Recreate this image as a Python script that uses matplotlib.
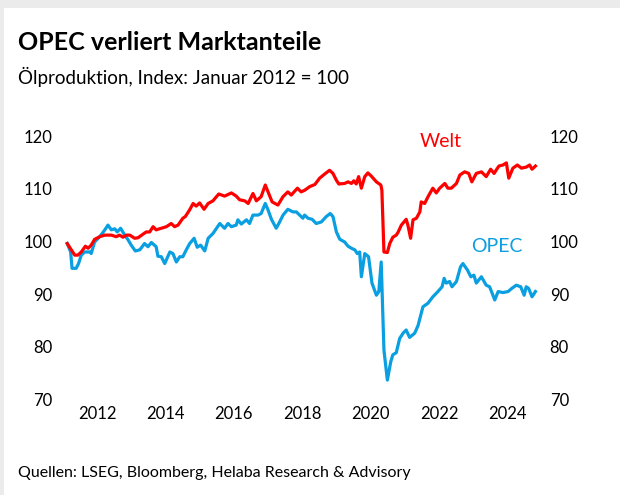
import matplotlib
matplotlib.use("Agg")
import matplotlib.pyplot as plt
from matplotlib.patches import Rectangle

# ---------------- data ----------------
welt_x = [2011.13, 2011.25, 2011.35, 2011.44, 2011.54, 2011.66, 2011.74, 2011.83, 2011.93,
          2012.08, 2012.23, 2012.42, 2012.56, 2012.66, 2012.76, 2012.86, 2012.96, 2013.10,
          2013.20, 2013.35, 2013.44, 2013.54, 2013.64, 2013.73, 2013.88, 2014.03, 2014.17,
          2014.27, 2014.37, 2014.51, 2014.58, 2014.71, 2014.81, 2014.90, 2015.00, 2015.13,
          2015.25, 2015.39, 2015.56, 2015.73, 2015.93, 2016.07, 2016.17, 2016.32, 2016.42,
          2016.56, 2016.66, 2016.80, 2016.92, 2017.02, 2017.12, 2017.29, 2017.44, 2017.58,
          2017.68, 2017.86, 2017.97, 2018.07, 2018.22, 2018.37, 2018.51, 2018.66, 2018.80,
          2018.90, 2019.00, 2019.07, 2019.24, 2019.34, 2019.44, 2019.51, 2019.58, 2019.65,
          2019.73, 2019.83, 2019.92, 2020.02, 2020.17, 2020.30, 2020.33, 2020.39, 2020.49,
          2020.56, 2020.65, 2020.75, 2020.80, 2020.90, 2021.04, 2021.09, 2021.17, 2021.24,
          2021.34, 2021.44, 2021.48, 2021.58, 2021.68, 2021.82, 2021.92, 2022.02, 2022.17,
          2022.26, 2022.36, 2022.51, 2022.61, 2022.75, 2022.87, 2022.96, 2023.09, 2023.24,
          2023.38, 2023.51, 2023.61, 2023.75, 2023.87, 2023.97, 2024.04, 2024.16, 2024.29,
          2024.41, 2024.55, 2024.65, 2024.72, 2024.82]
welt_y = [99.6, 98.4, 97.4, 97.4, 98.0, 99.1, 98.7, 99.3, 100.4,
          100.9, 101.2, 101.2, 100.9, 101.2, 100.8, 101.2, 101.2, 100.6,
          100.7, 101.4, 101.8, 101.8, 102.8, 102.2, 102.5, 102.8, 103.4,
          102.8, 103.1, 104.4, 104.7, 106.0, 107.2, 106.7, 107.3, 106.1,
          107.2, 107.7, 109.0, 108.6, 109.2, 108.6, 107.9, 107.7, 107.2,
          109.1, 107.7, 108.5, 110.7, 109.1, 107.5, 106.9, 108.5, 109.4,
          108.8, 110.1, 109.4, 109.7, 110.4, 110.8, 112.0, 112.8, 113.5,
          112.9, 111.6, 110.9, 111.0, 111.3, 111.0, 111.5, 110.9, 112.3,
          110.1, 112.3, 113.0, 112.4, 111.3, 110.7, 109.7, 98.0, 97.9,
          99.6, 100.8, 101.2, 101.7, 103.1, 104.2, 103.1, 100.6, 104.1,
          104.4, 105.6, 107.5, 107.2, 108.5, 110.1, 109.2, 110.1, 111.0,
          110.1, 110.1, 111.0, 112.6, 113.2, 112.9, 111.3, 112.9, 113.2,
          112.3, 113.7, 112.9, 114.3, 114.5, 114.9, 112.0, 113.9, 114.5,
          113.9, 114.1, 114.5, 113.7, 114.3]

opec_x = [2011.13, 2011.23, 2011.27, 2011.39, 2011.46, 2011.54, 2011.64, 2011.79, 2011.83,
          2011.93, 2012.08, 2012.23, 2012.32, 2012.42, 2012.52, 2012.59, 2012.69, 2012.81,
          2012.91, 2013.00, 2013.12, 2013.25, 2013.39, 2013.49, 2013.59, 2013.73, 2013.78,
          2013.88, 2013.98, 2014.13, 2014.22, 2014.32, 2014.42, 2014.51, 2014.61, 2014.71,
          2014.84, 2014.93, 2015.03, 2015.15, 2015.25, 2015.39, 2015.59, 2015.73, 2015.83,
          2015.93, 2016.07, 2016.12, 2016.22, 2016.37, 2016.46, 2016.56, 2016.71, 2016.80,
          2016.92, 2017.00, 2017.10, 2017.24, 2017.34, 2017.44, 2017.58, 2017.73, 2017.83,
          2018.02, 2018.07, 2018.17, 2018.29, 2018.41, 2018.56, 2018.70, 2018.82, 2018.90,
          2019.00, 2019.10, 2019.24, 2019.34, 2019.44, 2019.54, 2019.61, 2019.68, 2019.73,
          2019.83, 2019.94, 2020.04, 2020.17, 2020.24, 2020.31, 2020.39, 2020.49, 2020.59,
          2020.65, 2020.75, 2020.85, 2020.95, 2021.04, 2021.14, 2021.29, 2021.39, 2021.53,
          2021.68, 2021.82, 2021.97, 2022.09, 2022.15, 2022.21, 2022.31, 2022.38, 2022.51,
          2022.63, 2022.70, 2022.83, 2022.93, 2023.02, 2023.09, 2023.24, 2023.38, 2023.48,
          2023.63, 2023.73, 2023.87, 2024.02, 2024.13, 2024.26, 2024.39, 2024.49, 2024.55,
          2024.62, 2024.72, 2024.82]
opec_y = [99.6, 98.0, 94.9, 94.9, 95.8, 97.4, 98.0, 98.0, 97.7,
          99.9, 100.9, 102.2, 103.1, 102.2, 102.4, 101.8, 102.5, 101.2,
          100.3, 99.3, 98.2, 98.4, 99.6, 99.0, 99.8, 99.0, 97.2,
          97.1, 95.8, 98.0, 97.7, 96.1, 97.1, 97.1, 98.4, 99.6,
          100.6, 98.9, 99.3, 98.2, 100.6, 101.5, 103.4, 102.5, 103.4,
          102.8, 103.1, 104.1, 103.3, 104.1, 103.4, 105.0, 105.0, 105.3,
          107.2, 106.0, 104.2, 102.5, 103.7, 105.0, 106.1, 105.6, 105.6,
          104.4, 105.0, 104.4, 104.2, 103.4, 103.7, 104.7, 105.3, 104.7,
          101.8, 100.4, 99.9, 99.1, 98.7, 98.4, 97.7, 98.0, 93.3,
          97.7, 97.1, 92.1, 89.8, 90.5, 96.1, 79.4, 73.7, 77.2,
          78.5, 78.9, 81.6, 82.6, 83.2, 81.8, 82.6, 84.1, 87.6,
          88.3, 89.5, 90.5, 91.4, 93.0, 92.1, 92.4, 91.4, 92.4,
          95.2, 95.8, 94.6, 93.3, 93.6, 92.1, 93.3, 91.7, 91.4,
          88.9, 90.5, 90.3, 90.5, 91.1, 91.7, 91.4, 89.8, 91.4,
          91.1, 89.5, 90.5]

x_ticks = [2012, 2014, 2016, 2018, 2020, 2022, 2024]
y_ticks = [70, 80, 90, 100, 110, 120]

title = "OPEC verliert Marktanteile"
subtitle = "Ölproduktion, Index: Januar 2012 = 100"
source = "Quellen: LSEG, Bloomberg, Helaba Research & Advisory"

RED = "#FF0000"
BLUE = "#0A9FE0"

plt.rcParams['font.family'] = ['Liberation Sans Narrow', 'Lato', 'DejaVu Sans']

W, H = 620, 495
fig = plt.figure(figsize=(W / 100, H / 100), dpi=100)
fig.patch.set_facecolor("white")

# light grey frame at top and left
fig.patches.append(Rectangle((0, 1 - 8 / H), 1, 8 / H, transform=fig.transFigure,
                             facecolor="#EBEBEB", edgecolor="none", zorder=0))
fig.patches.append(Rectangle((0, 0), 4 / W, 1, transform=fig.transFigure,
                             facecolor="#EBEBEB", edgecolor="none", zorder=0))

left_px, right_px, top_px, bot_px = 62, 540, 136, 399.6
ax = fig.add_axes([left_px / W, (H - bot_px) / H, (right_px - left_px) / W, (bot_px - top_px) / H])

ax.plot(welt_x, welt_y, color=RED, lw=2.3, solid_joinstyle="round", zorder=3)
ax.plot(opec_x, opec_y, color=BLUE, lw=2.3, solid_joinstyle="round", zorder=2)

ax.set_ylim(70, 120)
ax.set_xlim(2012 - (97 - left_px) / 34.2, 2012 + (right_px - 97) / 34.2)
ax.set_xticks(x_ticks)
ax.set_xticklabels([str(t) for t in x_ticks])
ax.set_yticks(y_ticks)
ax.set_yticklabels([str(t) for t in y_ticks])
ax.tick_params(axis="both", length=0, labelsize=12, colors="black")
ax.tick_params(axis="y", pad=7, labelleft=True, labelright=True)
ax.tick_params(axis="x", pad=4.5)
for side in ax.spines.values():
    side.set_visible(False)
ax.grid(False)

# right-side labels: adjust pad for right side separately
for lab in ax.get_yticklabels(which="both"):
    pass

ax.text(2022.06, 118.9, "Welt", color=RED, fontsize=14, ha="center", va="center")
ax.text(2023.70, 99.1, "OPEC", color=BLUE, fontsize=14, ha="center", va="center")

fig.text(18 / W, 1 - 43 / H, title, fontsize=18, fontweight="bold", ha="left", va="center")
fig.text(18 / W, 1 - 77 / H, subtitle, fontsize=13.5, ha="left", va="center")
fig.text(18 / W, 1 - 473 / H, source, fontsize=11.5, ha="left", va="center")

fig.savefig("out.png", dpi=100, facecolor="white")
